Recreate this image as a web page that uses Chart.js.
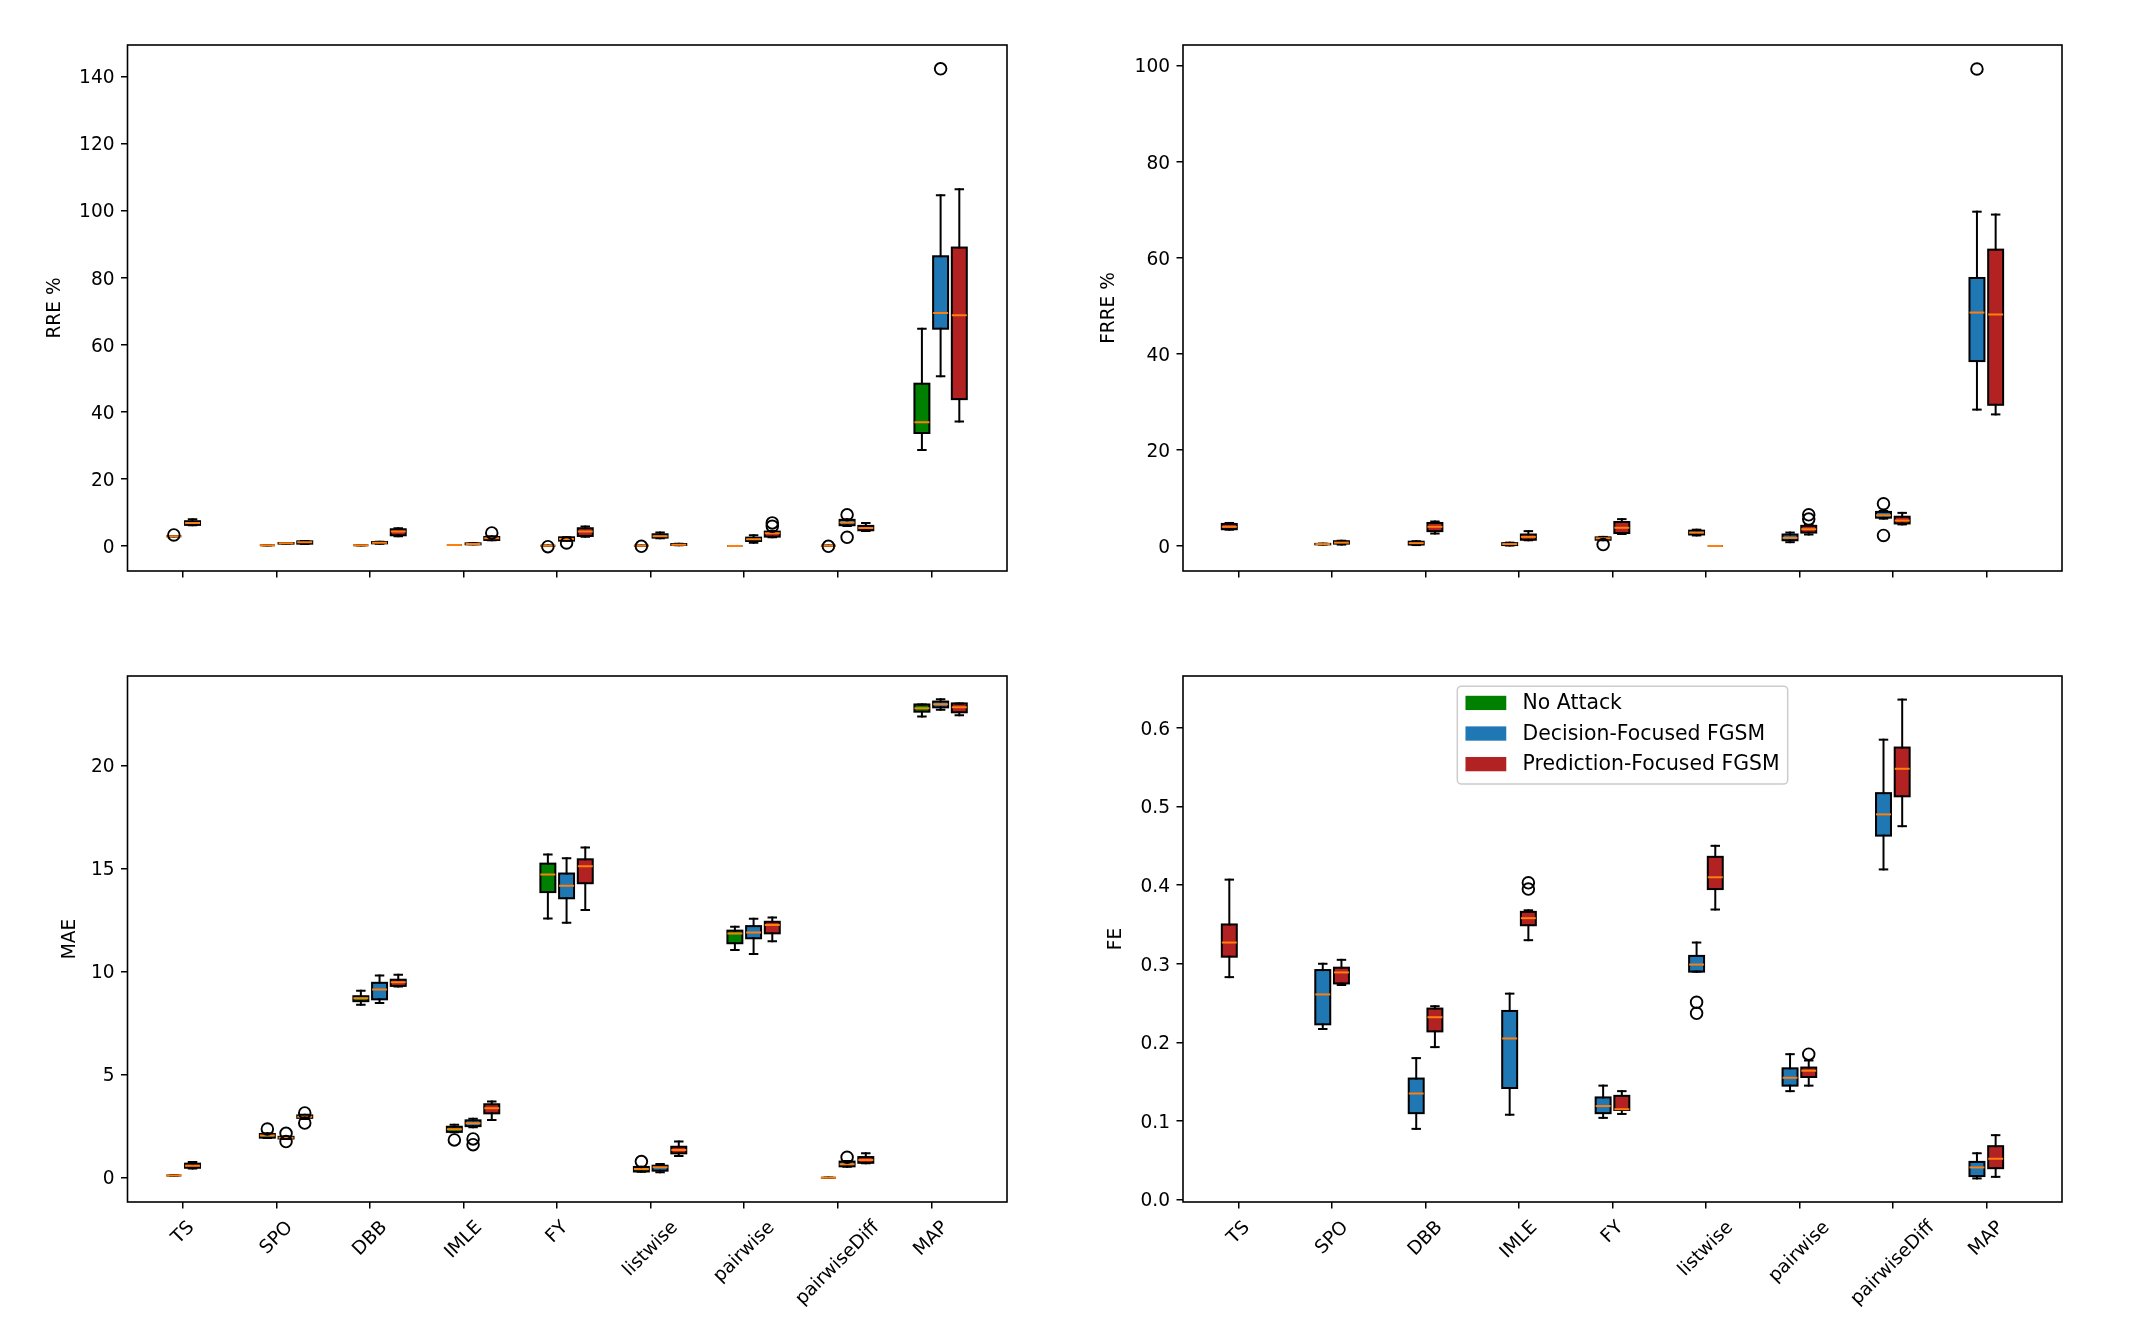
<!DOCTYPE html>
<html>
<head>
<meta charset="utf-8">
<title>Attack results box plots</title>
<script src="https://cdn.jsdelivr.net/npm/chart.js@4.4.1/dist/chart.umd.min.js"></script>
<style>
  html, body { margin: 0; padding: 0; background: #fff; }
  #fig { position: relative; width: 2139px; height: 1341px; background: #fff; overflow: hidden; }
  #fig canvas { position: absolute; background: #fff; }
</style>
</head>
<body>
<div id="fig">
  <canvas id="rre" width="1070" height="620" style="left:0;top:0"></canvas>
  <canvas id="frre" width="1069" height="620" style="left:1070px;top:0"></canvas>
  <canvas id="mae" width="1070" height="721" style="left:0;top:620px"></canvas>
  <canvas id="fe" width="1069" height="721" style="left:1070px;top:620px"></canvas>
</div>
<script>
/* ============ DATA ============ */
const categories = ['TS', 'SPO', 'DBB', 'IMLE', 'FY', 'listwise', 'pairwise', 'pairwiseDiff', 'MAP'];
const seriesNames = ['No Attack', 'Decision-Focused FGSM', 'Prediction-Focused FGSM'];

// each entry: [lower whisker, Q1, median, Q3, upper whisker]; null = no box
const rreNoAttack = [
  [2.9, 2.9, 2.9, 2.9, 2.9], [0.2, 0.2, 0.2, 0.2, 0.2], [0.2, 0.2, 0.2, 0.2, 0.2],
  [0.3, 0.3, 0.3, 0.3, 0.3], [0.1, 0.1, 0.1, 0.1, 0.1], [0.1, 0.1, 0.1, 0.1, 0.1],
  [0.0, 0.0, 0.0, 0.0, 0.0], [0.1, 0.1, 0.1, 0.1, 0.1], [28.6, 33.7, 36.9, 48.4, 64.8],
];
const rreNoAttackOut = [[3.3], [], [], [], [-0.2], [-0.1], [], [-0.1], []];
const rreDecision = [
  null, [0.7, 0.7, 0.8, 0.9, 0.9], [0.7, 0.8, 1.0, 1.2, 1.3],
  [0.5, 0.5, 0.6, 0.8, 0.8], [1.6, 1.6, 2.1, 2.6, 2.6], [2.3, 2.5, 2.9, 3.5, 4.0],
  [1.0, 1.5, 2.0, 2.5, 3.2], [6.0, 6.2, 7.0, 7.8, 8.0], [50.6, 64.8, 69.5, 86.4, 104.6],
];
const rreDecisionOut = [[], [], [], [], [0.9], [], [], [9.3, 2.6], [142.3]];
const rrePrediction = [
  [6.2, 6.3, 6.9, 7.4, 8.0], [0.6, 0.7, 1.1, 1.4, 1.5], [2.9, 3.2, 4.3, 5.0, 5.3],
  [1.7, 1.8, 2.3, 2.7, 2.9], [2.8, 3.0, 4.3, 5.3, 5.8], [0.2, 0.3, 0.4, 0.6, 0.7],
  [2.6, 2.8, 3.8, 4.3, 4.5], [4.5, 4.7, 5.4, 6.0, 6.9], [37.1, 43.8, 68.8, 89.0, 106.4],
];
const rrePredictionOut = [[], [], [], [3.9], [], [], [6.9, 5.9], [], []];

const frreNoAttack = [null, null, null, null, null, null, null, null, null];
const frreNoAttackOut = [[], [], [], [], [], [], [], [], []];
const frreDecision = [
  null, [0.3, 0.35, 0.4, 0.45, 0.5], [0.2, 0.3, 0.6, 0.9, 1.0],
  [0.1, 0.2, 0.4, 0.6, 0.7], [1.2, 1.3, 1.6, 1.8, 1.9], [2.2, 2.4, 2.8, 3.2, 3.4],
  [0.8, 1.2, 1.7, 2.4, 2.8], [5.7, 5.9, 6.4, 7.1, 7.3], [28.4, 38.5, 48.6, 55.8, 69.6],
];
const frreDecisionOut = [[], [], [], [], [0.3], [], [], [8.8, 2.2], [99.3]];
const frrePrediction = [
  [3.4, 3.5, 4.0, 4.6, 4.8], [0.3, 0.5, 0.7, 1.0, 1.1], [2.6, 3.1, 4.0, 4.8, 5.1],
  [1.2, 1.3, 1.9, 2.4, 3.1], [2.5, 2.7, 3.8, 5.0, 5.6], [0.0, 0.0, 0.0, 0.0, 0.0],
  [2.4, 2.8, 3.5, 4.2, 4.4], [4.5, 4.7, 5.3, 6.1, 6.9], [27.4, 29.4, 48.2, 61.7, 69.0],
];
const frrePredictionOut = [[], [], [], [], [], [], [6.5, 5.6], [], []];

const maeNoAttack = [
  [0.1, 0.1, 0.1, 0.1, 0.1], [1.92, 1.94, 2.04, 2.12, 2.15], [8.39, 8.56, 8.7, 8.8, 9.06],
  [2.2, 2.22, 2.35, 2.47, 2.57], [12.57, 13.85, 14.7, 15.23, 15.67], [0.29, 0.3, 0.42, 0.52, 0.53],
  [11.04, 11.37, 11.84, 11.98, 12.17], [0.0, 0.0, 0.0, 0.0, 0.0], [22.37, 22.6, 22.77, 22.95, 22.95],
];
const maeNoAttackOut = [[], [2.36], [], [1.83], [], [0.78], [], [], []];
const maeDecision = [
  null, [1.88, 1.9, 1.94, 1.98, 2.0], [8.47, 8.65, 9.12, 9.45, 9.81],
  [2.44, 2.5, 2.64, 2.78, 2.86], [12.36, 13.55, 14.16, 14.75, 15.49], [0.26, 0.34, 0.5, 0.58, 0.66],
  [10.85, 11.61, 11.89, 12.2, 12.56], [0.53, 0.55, 0.65, 0.78, 0.81], [22.69, 22.81, 22.96, 23.09, 23.2],
];
const maeDecisionOut = [[], [2.15, 1.75], [], [1.88, 1.6], [], [], [], [0.99], []];
const maePrediction = [
  [0.45, 0.48, 0.58, 0.68, 0.76], [2.85, 2.9, 2.96, 3.02, 3.05], [9.27, 9.3, 9.48, 9.6, 9.84],
  [2.8, 3.12, 3.37, 3.56, 3.69], [12.98, 14.28, 15.1, 15.44, 16.01], [1.05, 1.18, 1.34, 1.5, 1.75],
  [11.47, 11.85, 12.25, 12.41, 12.62], [0.7, 0.72, 0.86, 1.0, 1.18], [22.43, 22.57, 22.81, 23.0, 23.0],
];
const maePredictionOut = [[], [3.14, 2.65], [], [], [], [], [], [], []];

const feNoAttack = [null, null, null, null, null, null, null, null, null];
const feNoAttackOut = [[], [], [], [], [], [], [], [], []];
const feDecision = [
  null, [0.217, 0.223, 0.261, 0.292, 0.3], [0.09, 0.11, 0.135, 0.154, 0.18],
  [0.108, 0.142, 0.205, 0.24, 0.262], [0.104, 0.11, 0.119, 0.13, 0.145], [0.29, 0.29, 0.299, 0.31, 0.327],
  [0.138, 0.145, 0.155, 0.167, 0.185], [0.42, 0.463, 0.49, 0.517, 0.585], [0.027, 0.03, 0.041, 0.048, 0.059],
];
const feDecisionOut = [[], [], [], [], [], [0.251, 0.237], [], [], []];
const fePrediction = [
  [0.283, 0.309, 0.327, 0.35, 0.407], [0.273, 0.275, 0.289, 0.295, 0.305], [0.194, 0.214, 0.232, 0.243, 0.246],
  [0.33, 0.349, 0.358, 0.366, 0.368], [0.109, 0.114, 0.115, 0.132, 0.138], [0.369, 0.395, 0.41, 0.436, 0.45],
  [0.145, 0.156, 0.164, 0.168, 0.177], [0.475, 0.513, 0.548, 0.575, 0.636], [0.029, 0.04, 0.052, 0.068, 0.082],
];
const fePredictionOut = [[], [], [], [0.403, 0.395], [], [], [0.185], [], []];

const rreTicks = [0, 20, 40, 60, 80, 100, 120, 140];
const frreTicks = [0, 20, 40, 60, 80, 100];
const maeTicks = [0, 5, 10, 15, 20];
const feTicks = [0, 0.1, 0.2, 0.3, 0.4, 0.5, 0.6];

/* ============ STYLE ============ */
const FONT = '"DejaVu Sans", sans-serif';
const TICK_PX = 18.57;
const LEGEND_PX = 20.4;
const SERIES_COLORS = ['#008000', '#1f77b4', '#b22222'];
const MEDIAN_COLOR = '#ff7f0e';
const LW = 2;
const SLOT_OFFSETS = [-0.1, 0.1, 0.3];
const BOX_WIDTH = 0.16;
const X_MIN = -0.5955;
const X_MAX = 8.81;

// area: left = y-axis width, top/right = padding, bottom = x-axis height (canvas px)
const panels = [
  { id: 'rre', title: 'RRE %', stats: [rreNoAttack, rreDecision, rrePrediction],
    out: [rreNoAttackOut, rreDecisionOut, rrePredictionOut], ticks: rreTicks,
    yMin: -7.45, yMax: 149.4, fmt: (v) => String(v), titleX: 55,
    area: { left: 127.5, top: 45, right: 63, bottom: 49 }, xLabels: false, legend: false },
  { id: 'frre', title: 'FRRE %', stats: [frreNoAttack, frreDecision, frrePrediction],
    out: [frreNoAttackOut, frreDecisionOut, frrePredictionOut], ticks: frreTicks,
    yMin: -5.2, yMax: 104.3, fmt: (v) => String(v), titleX: 39,
    area: { left: 113, top: 45, right: 77, bottom: 49 }, xLabels: false, legend: false },
  { id: 'mae', title: 'MAE', stats: [maeNoAttack, maeDecision, maePrediction],
    out: [maeNoAttackOut, maeDecisionOut, maePredictionOut], ticks: maeTicks,
    yMin: -1.18, yMax: 24.33, fmt: (v) => String(v), titleX: 70,
    area: { left: 127.5, top: 56, right: 63, bottom: 139 }, xLabels: true, legend: false },
  { id: 'fe', title: 'FE', stats: [feNoAttack, feDecision, fePrediction],
    out: [feNoAttackOut, feDecisionOut, fePredictionOut], ticks: feTicks,
    yMin: -0.003, yMax: 0.666, fmt: (v) => v.toFixed(1), titleX: 46,
    area: { left: 113, top: 56, right: 77, bottom: 139 }, xLabels: true, legend: true },
];

// slot of each box: k-th present series in a category
function eachBox(p, fn) {
  categories.forEach((cat, c) => {
    let k = 0;
    p.stats.forEach((series, s) => {
      if (!series[c]) return;
      fn(c + SLOT_OFFSETS[k++], series[c], s, c);
    });
  });
}

function line(ctx, x1, y1, x2, y2) {
  ctx.beginPath();
  ctx.moveTo(x1, y1);
  ctx.lineTo(x2, y2);
  ctx.stroke();
}

/* ============ BOX PLOT PLUGIN ============ */
function boxPlugin(p) {
  return {
    id: 'boxes',
    beforeDatasetsDraw(chart) {
      const { ctx, chartArea: a, scales: { x, y } } = chart;
      ctx.save();
      ctx.beginPath();
      ctx.rect(a.left, a.top, a.right - a.left, a.bottom - a.top);
      ctx.clip();
      ctx.lineWidth = LW;
      ctx.lineCap = 'square';
      eachBox(p, (pos, st, s) => {
        const cx = x.getPixelForValue(pos);
        const hw = x.getPixelForValue(pos + BOX_WIDTH / 2) - cx;
        const [lo, q1, med, q3, hi] = st.map((v) => y.getPixelForValue(v));
        ctx.fillStyle = SERIES_COLORS[s];
        ctx.fillRect(cx - hw, q3, 2 * hw, q1 - q3);
        ctx.strokeStyle = '#000';
        ctx.strokeRect(cx - hw, q3, 2 * hw, q1 - q3);
        line(ctx, cx, q1, cx, lo);
        line(ctx, cx, q3, cx, hi);
        line(ctx, cx - hw / 2, lo, cx + hw / 2, lo);
        line(ctx, cx - hw / 2, hi, cx + hw / 2, hi);
        ctx.strokeStyle = MEDIAN_COLOR;
        ctx.lineCap = 'butt';
        line(ctx, cx - hw, med, cx + hw, med);
        ctx.lineCap = 'square';
      });
      ctx.restore();
    },
    afterDraw(chart) {
      const { ctx, chartArea: a, scales: { x } } = chart;
      ctx.save();
      // frame
      ctx.strokeStyle = '#000';
      ctx.lineWidth = 1.6;
      ctx.strokeRect(a.left, a.top, a.right - a.left, a.bottom - a.top);

      // rotated category labels, centred under the tick like matplotlib
      if (p.xLabels) {
        ctx.font = `${TICK_PX}px ${FONT}`;
        ctx.fillStyle = '#000';
        ctx.textAlign = 'center';
        ctx.textBaseline = 'middle';
        const h = TICK_PX * 1.164;
        categories.forEach((label, i) => {
          const w = ctx.measureText(label).width;
          const bb = (w + h) * Math.SQRT1_2;
          ctx.save();
          ctx.translate(x.getPixelForValue(i), a.bottom + 15 + bb / 2);
          ctx.rotate(-Math.PI / 4);
          ctx.fillText(label, 0, 0);
          ctx.restore();
        });
      }

      // legend box
      if (p.legend) {
        const fs = LEGEND_PX;
        ctx.font = `${fs}px ${FONT}`;
        const maxW = Math.max(...seriesNames.map((n) => ctx.measureText(n).width));
        const pad = 0.4 * fs;
        const patchW = 2 * fs;
        const patchH = 0.7 * fs;
        const gap = 0.8 * fs;
        const boxW = pad + patchW + gap + maxW + pad;
        const boxH = 4.8 * fs;
        const bx = (a.left + a.right) / 2 - boxW / 2;
        const by = a.top + 0.5 * fs;
        ctx.beginPath();
        ctx.roundRect(bx, by, boxW, boxH, 4);
        ctx.fillStyle = 'rgba(255,255,255,0.8)';
        ctx.fill();
        ctx.strokeStyle = '#cccccc';
        ctx.lineWidth = 1.5;
        ctx.stroke();
        ctx.textAlign = 'left';
        ctx.textBaseline = 'middle';
        seriesNames.forEach((name, i) => {
          const cy = by + 0.82 * fs + i * 1.5 * fs;
          ctx.fillStyle = SERIES_COLORS[i];
          ctx.fillRect(bx + pad, cy - patchH / 2, patchW, patchH);
          ctx.fillStyle = '#000';
          ctx.fillText(name, bx + pad + patchW + gap, cy + 1);
        });
      }
      ctx.restore();
    },
  };
}

/* ============ BUILD CHARTS ============ */
function buildPanel(p) {
  const fliers = [];
  eachBox(p, (pos, st, s, c) => {
    p.out[s][c].forEach((v) => fliers.push({ x: pos, y: v }));
  });

  new Chart(document.getElementById(p.id), {
    type: 'scatter',
    data: {
      datasets: [{
        label: 'fliers',
        data: fliers,
        pointStyle: 'circle',
        pointRadius: 5.8,
        pointHoverRadius: 5.8,
        pointBorderWidth: 1.9,
        pointBackgroundColor: 'rgba(0,0,0,0)',
        pointBorderColor: '#000',
        backgroundColor: 'rgba(0,0,0,0)',
        borderColor: '#000',
      }],
    },
    options: {
      responsive: false,
      animation: false,
      devicePixelRatio: 1,
      events: [],
      layout: { autoPadding: false, padding: { left: 0, top: p.area.top, right: p.area.right, bottom: 0 } },
      plugins: { legend: { display: false }, tooltip: { enabled: false } },
      scales: {
        x: {
          type: 'linear',
          min: X_MIN,
          max: X_MAX,
          afterBuildTicks: (s) => { s.ticks = categories.map((_, i) => ({ value: i })); },
          afterFit: (s) => { s.height = p.area.bottom; },
          ticks: { display: false },
          grid: { drawOnChartArea: false, drawTicks: true, tickLength: 6.5, color: '#000', lineWidth: 1.5 },
          border: { display: false },
        },
        y: {
          type: 'linear',
          min: p.yMin,
          max: p.yMax,
          afterBuildTicks: (s) => { s.ticks = p.ticks.map((v) => ({ value: v })); },
          afterFit: (s) => { s.width = p.area.left; },
          ticks: {
            color: '#000',
            font: { family: FONT, size: TICK_PX },
            padding: 6.5,
            labelOffset: 2,
            callback: (v) => p.fmt(v),
          },
          grid: { drawOnChartArea: false, drawTicks: true, tickLength: 6.5, color: '#000', lineWidth: 1.5 },
          border: { display: false },
          title: {
            display: true,
            text: p.title,
            color: '#000',
            font: { family: FONT, size: TICK_PX },
            padding: { top: p.titleX - TICK_PX * 0.6, bottom: 0 },
          },
        },
      },
    },
    plugins: [boxPlugin(p)],
  });
}

panels.forEach(buildPanel);
</script>
</body>
</html>
